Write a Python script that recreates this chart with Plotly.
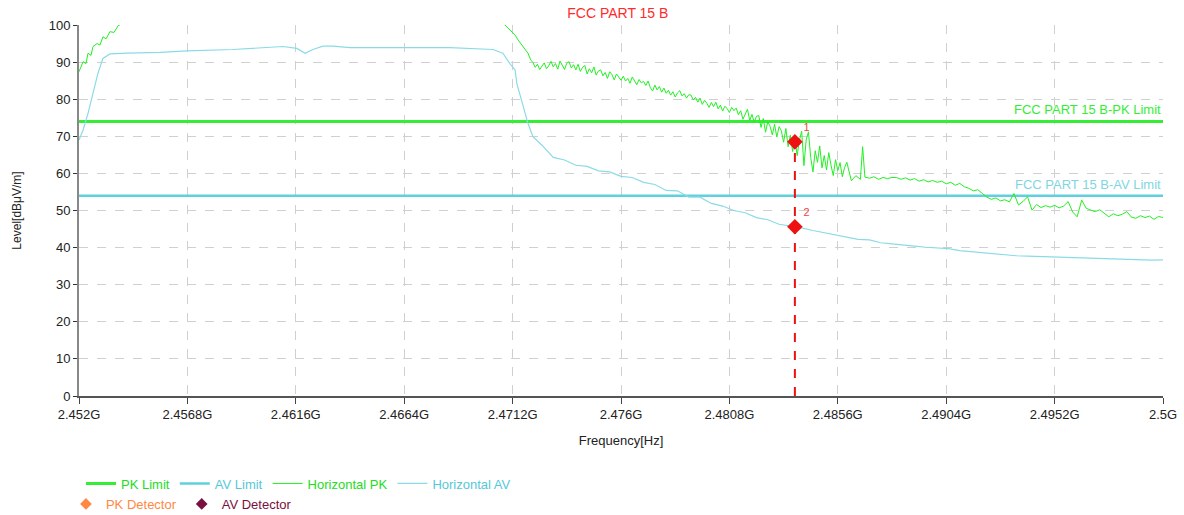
import plotly.graph_objects as go

# ---------------- data ----------------
title_text = "FCC PART 15 B"
x_title = "Frequency[Hz]"
y_title = "Level[dBμV/m]"

tick_vals_mhz = [2452.0, 2456.8, 2461.6, 2466.4, 2471.2, 2476.0, 2480.8, 2485.6, 2490.4, 2495.2, 2500.0]
tick_text = ["2.452G", "2.4568G", "2.4616G", "2.4664G", "2.4712G", "2.476G", "2.4808G",
             "2.4856G", "2.4904G", "2.4952G", "2.5G"]
y_ticks = [0, 10, 20, 30, 40, 50, 60, 70, 80, 90, 100]

limit_freq_mhz = [2452.0, 2500.0]
pk_limit = [74.0, 74.0]
av_limit = [54.0, 54.0]

pk_freq_mhz = [
    2452.00, 2452.18, 2452.31, 2452.40, 2452.53, 2452.62, 2452.80, 2452.93, 2453.06, 2453.20,
    2453.37, 2453.55, 2453.73, 2454.04, 2455.0, 2458.0, 2462.0, 2466.0, 2469.0, 2470.5,
    2470.86, 2471.08, 2471.31, 2471.44, 2471.66, 2471.88, 2472.0,
    2472.1, 2472.2, 2472.3, 2472.4, 2472.5, 2472.6, 2472.7, 2472.8, 2472.9, 2473.0,
    2473.1, 2473.2, 2473.3, 2473.4, 2473.5, 2473.6, 2473.7, 2473.8, 2473.9, 2474.0,
    2474.1, 2474.2, 2474.3, 2474.4, 2474.5, 2474.6, 2474.7, 2474.8, 2474.9, 2475.0,
    2475.1, 2475.2, 2475.3, 2475.4, 2475.5, 2475.6, 2475.7, 2475.8, 2475.9, 2476.0,
    2476.1, 2476.2, 2476.3, 2476.4, 2476.5, 2476.6, 2476.7, 2476.8, 2476.9, 2477.0,
    2477.1, 2477.2, 2477.3, 2477.4, 2477.5, 2477.6, 2477.7, 2477.8, 2477.9, 2478.0,
    2478.1, 2478.2, 2478.3, 2478.4, 2478.5, 2478.6, 2478.7, 2478.8, 2478.9, 2479.0,
    2479.1, 2479.2, 2479.3, 2479.4, 2479.5, 2479.6, 2479.7, 2479.8, 2479.9, 2480.0,
    2480.1, 2480.2, 2480.3, 2480.4, 2480.5, 2480.6, 2480.7, 2480.8, 2480.9, 2481.0,
    2481.1, 2481.2, 2481.3, 2481.4, 2481.5, 2481.6, 2481.7, 2481.8, 2481.9, 2482.0,
    2482.1, 2482.2, 2482.3, 2482.4, 2482.5, 2482.6, 2482.7, 2482.8, 2482.9, 2483.0,
    2483.1, 2483.2, 2483.3, 2483.4, 2483.5, 2483.6, 2483.7, 2483.8, 2483.9, 2484.0,
    2484.1, 2484.2, 2484.3, 2484.4, 2484.5, 2484.6, 2484.7, 2484.8, 2484.9, 2485.0,
    2485.1, 2485.2, 2485.3, 2485.4, 2485.5, 2485.6, 2485.7, 2485.8, 2485.9, 2486.0,
    2486.2, 2486.4, 2486.6, 2486.7, 2486.8, 2487.0, 2487.2, 2487.4, 2487.6, 2487.8, 2488.0,
    2488.2, 2488.4, 2488.6, 2488.8, 2489.0, 2489.2, 2489.4, 2489.6, 2489.8, 2490.0,
    2490.2, 2490.4, 2490.6, 2490.8, 2491.0, 2491.2, 2491.4, 2491.6, 2491.8, 2492.0,
    2492.2, 2492.4, 2492.6, 2492.8, 2493.0, 2493.2, 2493.4, 2493.6, 2493.8, 2494.0,
    2494.2, 2494.4, 2494.6, 2494.8, 2495.0, 2495.2, 2495.4, 2495.6, 2495.8, 2496.0,
    2496.2, 2496.4, 2496.6, 2496.8, 2497.0, 2497.2, 2497.4, 2497.6, 2497.8, 2498.0,
    2498.2, 2498.4, 2498.6, 2498.8, 2499.0, 2499.2, 2499.4, 2499.6, 2499.8, 2500.0,
]
horizontal_pk = [
    87.4, 90.1, 89.6, 92.4, 91.8, 94.2, 95.0, 94.6, 96.8, 96.3,
    98.2, 98.0, 99.8, 100.8, 102.0, 104.0, 105.0, 104.5, 103.5, 101.5,
    100.0, 98.7, 97.3, 96.0, 94.2, 92.4, 90.6,
    89.9, 88.6, 89.4, 88.0, 89.1, 89.8, 88.2, 89.0, 90.2, 88.7,
    89.6, 88.1, 90.3, 89.2, 88.0, 89.7, 90.1, 88.4, 89.3, 87.9,
    89.4, 87.5, 88.6, 89.1, 86.8, 88.2, 87.1, 88.7, 86.5, 87.6,
    87.9, 86.3, 87.2, 85.6, 87.4, 86.6, 85.2, 86.8, 85.9, 85.1,
    86.2, 84.9, 85.6, 84.3, 86.0, 85.1, 83.9, 85.3, 84.4, 84.8,
    83.7, 84.9, 83.1, 82.2, 83.8, 82.5, 83.4, 81.9, 83.0, 81.6,
    82.4, 81.1, 82.0, 80.6, 81.7, 82.3, 80.9, 81.5, 80.3, 81.2,
    81.1, 79.8, 80.5, 79.2, 80.3, 78.6, 79.7, 78.9, 77.8, 79.1,
    78.0, 79.2, 77.4, 78.4, 76.8, 78.1, 77.5, 76.4, 77.8, 76.9,
    77.6, 75.8, 76.9, 74.6, 76.2, 77.3, 74.2, 75.9, 73.8, 75.4,
    75.6, 72.4, 74.8, 71.1, 73.9, 72.7, 70.4, 73.2, 69.8, 72.6,
    71.5, 68.4, 72.1, 67.2, 70.3, 65.9, 69.6, 64.8, 68.9, 71.4,
    62.1, 69.0, 71.2, 64.3, 60.4, 66.1, 63.0, 67.4, 61.5, 64.8,
    60.9, 65.6, 62.2, 59.4, 63.7, 60.8, 62.9, 59.1, 61.6, 63.0,
    58.0, 59.4, 58.4, 67.2, 59.0, 58.7, 59.1, 58.4, 58.9, 58.6, 58.9,
    58.9, 58.4, 58.8, 58.2, 58.6, 57.9, 58.3, 57.7, 58.1, 57.6,
    57.9, 57.2, 57.6, 56.8, 57.3, 56.4, 56.0, 55.3, 55.6, 54.6,
    53.6, 53.0, 53.4, 52.6, 52.9, 52.3, 54.6, 51.5, 52.4, 53.7,
    50.1, 51.6, 50.8, 51.3, 50.9, 51.4, 50.7, 51.2, 52.4, 49.6,
    48.3, 52.8, 50.6, 50.1, 49.7, 50.2, 49.3, 48.3, 49.1, 48.6,
    49.0, 49.7, 48.2, 47.9, 48.6, 48.1, 48.5, 47.6, 48.4, 48.1,
]

av_freq_mhz = [
    2452.00, 2452.18, 2452.40, 2452.62, 2452.84, 2453.06, 2453.37, 2454.13, 2455.59, 2456.78,
    2458.82, 2461.03, 2461.65, 2462.01, 2462.36, 2462.80, 2463.25, 2464.00, 2466.21, 2468.43,
    2470.33, 2470.77, 2471.08, 2471.31, 2471.39, 2471.66, 2471.88, 2472.10,
    2472.5, 2473.0, 2473.5, 2474.0, 2474.5, 2475.0, 2475.5, 2476.0, 2476.5, 2477.0,
    2477.5, 2478.0, 2478.5, 2479.0, 2479.5, 2480.0, 2480.5, 2481.0, 2481.5, 2482.0,
    2482.5, 2483.0, 2483.5, 2484.0, 2484.5, 2485.0, 2485.5, 2486.0, 2486.5, 2487.0,
    2487.5, 2488.0, 2488.5, 2489.0, 2489.5, 2490.0, 2490.5, 2491.0, 2491.5, 2492.0,
    2492.5, 2493.0, 2493.5, 2494.0, 2494.5, 2495.0, 2495.5, 2496.0, 2496.5, 2497.0,
    2497.5, 2498.0, 2498.5, 2499.0, 2499.5, 2500.0,
]
horizontal_av = [
    69.0, 71.7, 76.2, 81.6, 87.0, 91.0, 92.2, 92.4, 92.6, 93.0,
    93.4, 94.2, 93.7, 92.4, 93.4, 94.3, 94.3, 93.9, 94.0, 93.9,
    93.4, 92.4, 89.6, 87.9, 84.2, 78.5, 73.5, 69.9,
    67.6, 64.3, 63.6, 62.2, 61.9, 60.7, 60.4, 59.2, 58.9, 57.6,
    57.0, 55.4, 55.3, 53.6, 53.6, 51.9, 51.2, 50.0, 49.4, 48.1,
    47.5, 46.3, 45.9, 45.3, 44.6, 44.0, 43.3, 42.9, 42.2, 42.1,
    41.3, 41.0, 40.6, 40.4, 40.1, 39.9, 39.7, 39.2, 38.9, 38.5,
    38.3, 38.1, 37.8, 37.7, 37.6, 37.4, 37.3, 37.2, 37.1, 37.0,
    36.9, 36.8, 36.7, 36.8, 36.6, 36.7,
]

marker_freq_mhz = [2483.70, 2483.70]
marker_level = [68.5, 45.6]
marker_labels = ["1", "2"]

assert len(pk_freq_mhz) == len(horizontal_pk)
assert len(av_freq_mhz) == len(horizontal_av)

# ---------------- style ----------------
FONT = "Liberation Sans, Arial, sans-serif"
FS = 13
GREEN = "#33ee33"
CYAN = "#5fd0de"
CYAN_CURVE = "#8adbe6"


def colored(name, color):
    return f'<span style="color:{color}">{name}</span>'


fig = go.Figure()

fig.add_trace(go.Scatter(x=limit_freq_mhz, y=pk_limit, mode="lines",
                         line=dict(color=GREEN, width=3),
                         name=colored("PK Limit", "#22dd22"), legend="legend"))
fig.add_trace(go.Scatter(x=limit_freq_mhz, y=av_limit, mode="lines",
                         line=dict(color=CYAN, width=2.5),
                         name=colored("AV Limit", "#55c8d8"), legend="legend"))
fig.add_trace(go.Scatter(x=pk_freq_mhz, y=horizontal_pk, mode="lines",
                         line=dict(color="#22f022", width=1),
                         name=colored("Horizontal PK", "#22dd22"), legend="legend"))
fig.add_trace(go.Scatter(x=av_freq_mhz, y=horizontal_av, mode="lines",
                         line=dict(color=CYAN_CURVE, width=1.2),
                         name=colored("Horizontal AV", "#55c8d8"), legend="legend"))

# marker line & markers
fig.add_trace(go.Scatter(x=[marker_freq_mhz[0], marker_freq_mhz[0]], y=[0, marker_level[0]],
                         mode="lines", line=dict(color="#ee1111", width=2, dash="dash"),
                         showlegend=False, hoverinfo="skip"))
fig.add_trace(go.Scatter(x=marker_freq_mhz, y=marker_level, mode="markers+text",
                         marker=dict(symbol="diamond", size=12, color="#ee1111"),
                         text=marker_labels, textposition="top right",
                         textfont=dict(color="#ee4444", size=11, family=FONT),
                         showlegend=False))

# legend-only detector entries
fig.add_trace(go.Scatter(x=[None], y=[None], mode="markers",
                         marker=dict(symbol="diamond", size=9, color="#ff8844"),
                         name=colored("PK Detector", "#ff8844"), legend="legend2"))
fig.add_trace(go.Scatter(x=[None], y=[None], mode="markers",
                         marker=dict(symbol="diamond", size=9, color="#7a1040"),
                         name=colored("AV Detector", "#7a1040"), legend="legend2"))

fig.add_annotation(x=2500.0, y=74, xref="x", yref="y", text="FCC PART 15 B-PK Limit",
                   showarrow=False, xanchor="right", yanchor="bottom", yshift=2,
                   font=dict(family=FONT, size=FS, color="#33ee33"))
fig.add_annotation(x=2500.0, y=54, xref="x", yref="y", text="FCC PART 15 B-AV Limit",
                   showarrow=False, xanchor="right", yanchor="bottom", yshift=2,
                   font=dict(family=FONT, size=FS, color="#7fd6e2"))

fig.update_layout(
    width=1184, height=515,
    margin=dict(l=79, r=21, t=25, b=119, autoexpand=False),
    paper_bgcolor="white", plot_bgcolor="white",
    font=dict(family=FONT, size=FS, color="#222222"),
    title=dict(text=title_text, x=0.5218, xanchor="center", xref="container",
               y=0.975, yref="container", yanchor="middle",
               font=dict(family=FONT, size=14, color="#ff2a2a")),
    showlegend=True,
    legend=dict(orientation="h", xref="container", yref="container",
                x=0.0684, xanchor="left", y=0.0903, yanchor="top",
                font=dict(family=FONT, size=FS), bgcolor="rgba(0,0,0,0)"),
    legend2=dict(orientation="h", xref="container", yref="container",
                 x=0.0557, xanchor="left", y=0.0505, yanchor="top",
                 font=dict(family=FONT, size=FS), bgcolor="rgba(0,0,0,0)"),
    xaxis=dict(range=[2452.0, 2500.0], tickvals=tick_vals_mhz, ticktext=tick_text,
               showgrid=True, gridcolor="#d0d0d0", griddash="dash", gridwidth=1,
               showline=True, linecolor="#555555", linewidth=1.5,
               ticks="outside", ticklen=6, tickcolor="#444444",
               tickfont=dict(family=FONT, size=FS, color="#222222"),
               title=dict(text=x_title, font=dict(family=FONT, size=FS, color="#222222"), standoff=15),
               zeroline=False),
    yaxis=dict(range=[0, 100], tickvals=y_ticks,
               showgrid=True, gridcolor="#d0d0d0", griddash="dash", gridwidth=1,
               showline=True, linecolor="#888888", linewidth=2,
               ticks="outside", ticklen=4, tickcolor="#333333",
               tickfont=dict(family=FONT, size=FS, color="#222222"),
               title=dict(text=y_title, font=dict(family=FONT, size=12, color="#222222"), standoff=24),
               zeroline=False),
)

fig.write_html("out.html", config={"displayModeBar": False},
               post_script="document.body.style.margin='0';")
